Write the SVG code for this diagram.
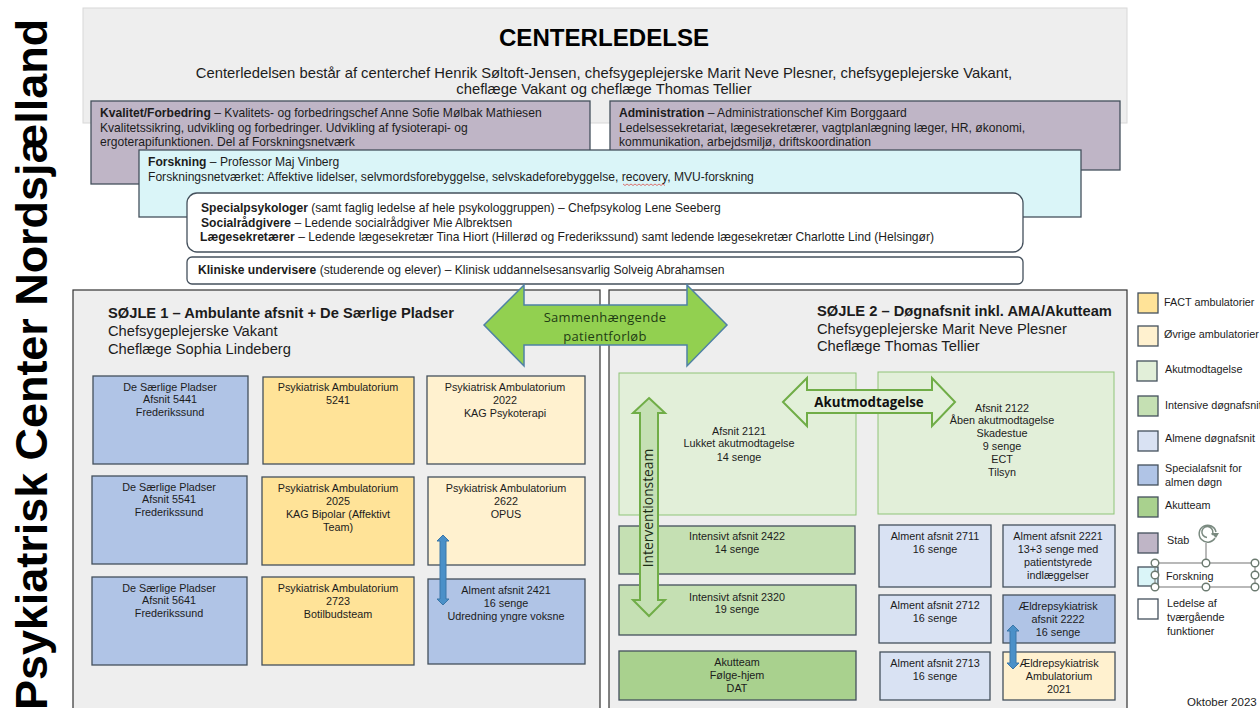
<svg xmlns="http://www.w3.org/2000/svg" width="1260" height="708" viewBox="0 0 1260 708">
<style>
text{font-family:"Liberation Sans",Arial,sans-serif;fill:#1c1c1c;font-size:10.8px}
.c{text-anchor:middle}
.b{font-weight:bold}
.s{font-size:12.1px}
.h{font-size:14.7px}
.box{stroke:#44505c;stroke-width:1.3}
.blue{fill:#b0c4e6}.fact{fill:#ffe398}.ovr{fill:#fff1cf}.aku{fill:#e2efd9;stroke:#8fc478}.int{fill:#c5e0b3}.alm{fill:#d9e2f3}.team{fill:#a9d18e}.stab{fill:#bfb5c6}.fors{fill:#daf5f8}.wh{fill:#fff}
.panel{fill:#eeeeee;stroke:#333;stroke-width:1.2}
.handle{fill:#fff;stroke:#6b7a70;stroke-width:1.4}
</style>
<text id="side-title" transform="translate(47,710) rotate(-90)" class="b" style="font-size:44.9px;fill:#000">Psykiatrisk Center Nordsjælland</text>

<g id="centerledelse">
<rect x="83" y="8" width="1044" height="115" fill="#eeeeee" stroke="#d8d8d8"/>
<text x="604" y="46" class="c b" style="font-size:24.1px;fill:#000">CENTERLEDELSE</text>
<text x="604" y="78" class="c" style="font-size:14.8px">Centerledelsen består af centerchef Henrik Søltoft-Jensen, chefsygeplejerske Marit Neve Plesner, chefsygeplejerske Vakant,</text>
<text x="604" y="94" class="c" style="font-size:14.8px">cheflæge Vakant og cheflæge Thomas Tellier</text>
</g>
<g id="kvalitet">
<rect x="91" y="101" width="499" height="83" class="box stab"/>
<text x="100" y="117" class="s"><tspan class="b">Kvalitet/Forbedring</tspan> – Kvalitets- og forbedringschef Anne Sofie Mølbak Mathiesen</text>
<text x="100" y="132" class="s">Kvalitetssikring, udvikling og forbedringer. Udvikling af fysioterapi- og</text>
<text x="100" y="146" class="s">ergoterapifunktionen. Del af Forskningsnetværk</text>
</g>
<g id="administration">
<rect x="610" y="101" width="510" height="69" class="box stab"/>
<text x="619" y="117" class="s"><tspan class="b">Administration</tspan> – Administrationschef Kim Borggaard</text>
<text x="619" y="132" class="s">Ledelsessekretariat, lægesekretærer, vagtplanlægning læger, HR, økonomi,</text>
<text x="619" y="146" class="s">kommunikation, arbejdsmiljø, driftskoordination</text>
</g>
<g id="forskning">
<rect x="139" y="150" width="942" height="67" class="box fors"/>
<text x="148" y="166" class="s"><tspan class="b">Forskning</tspan> – Professor Maj Vinberg</text>
<text x="148" y="181" class="s">Forskningsnetværket: Affektive lidelser, selvmordsforebyggelse, selvskadeforebyggelse, recovery, MVU-forskning</text>
<path d="M623 184l2 1.500 2-1.500 2 1.500 2-1.500 2 1.500 2-1.500 2 1.500 2-1.500 2 1.500 2-1.500 2 1.500 2-1.500 2 1.500 2-1.500 2 1.500 2-1.500 2 1.500 2-1.500 2 1.500 2-1.500 2 1.500" fill="none" stroke="#d9534f" stroke-width=".8"/>
</g>
<g id="specialpsykologer">
<rect x="187" y="193" width="836" height="59" rx="10" class="box wh"/>
<text x="201" y="212" class="s"><tspan class="b">Specialpsykologer</tspan> (samt faglig ledelse af hele psykologgruppen) – Chefpsykolog Lene Seeberg</text>
<text x="201" y="227" class="s"><tspan class="b">Socialrådgivere</tspan> – Ledende socialrådgiver Mie Albrektsen</text>
<text x="200" y="241" class="s"><tspan class="b">Lægesekretærer</tspan> – Ledende lægesekretær Tina Hiort (Hillerød og Frederikssund) samt ledende lægesekretær Charlotte Lind (Helsingør)</text>
</g>
<g id="kliniske">
<rect x="187" y="257" width="836" height="27" rx="5" class="box wh"/>
<text x="198" y="274" class="s"><tspan class="b">Kliniske undervisere</tspan> (studerende og elever) – Klinisk uddannelsesansvarlig Solveig Abrahamsen</text>
</g>

<g id="soejle1">
<rect x="73" y="290" width="527" height="425" class="panel"/>
<text x="108" y="318" class="b h">SØJLE 1 – Ambulante afsnit + De Særlige Pladser</text>
<text x="108" y="336" class="h">Chefsygeplejerske Vakant</text>
<text x="108" y="354" class="h">Cheflæge Sophia Lindeberg</text>
</g>
<g id="soejle2">
<rect x="609" y="290" width="518" height="425" class="panel"/>
<text x="817" y="316" class="b h">SØJLE 2 – Døgnafsnit inkl. AMA/Akutteam</text>
<text x="817" y="334" class="h">Chefsygeplejerske Marit Neve Plesner</text>
<text x="817" y="351" class="h">Cheflæge Thomas Tellier</text>
</g>

<g id="n5441"><rect x="93" y="376" width="155" height="88" class="box blue"/><text class="c" x="170" y="391">De Særlige Pladser</text><text class="c" x="170" y="403">Afsnit 5441</text><text class="c" x="170" y="416">Frederikssund</text></g>
<g id="n5241"><rect x="263" y="377" width="151" height="87" class="box fact"/><text class="c" x="338" y="391">Psykiatrisk Ambulatorium</text><text class="c" x="338" y="404">5241</text></g>
<g id="n2022"><rect x="427" y="376" width="158" height="88" class="box ovr"/><text class="c" x="505" y="391">Psykiatrisk Ambulatorium</text><text class="c" x="505" y="404">2022</text><text class="c" x="505" y="417">KAG Psykoterapi</text></g>
<g id="n5541"><rect x="92" y="476" width="155" height="88" class="box blue"/><text class="c" x="169" y="491">De Særlige Pladser</text><text class="c" x="169" y="503">Afsnit 5541</text><text class="c" x="169" y="516">Frederikssund</text></g>
<g id="n2025"><rect x="262" y="477" width="152" height="88" class="box fact"/><text class="c" x="338" y="492">Psykiatrisk Ambulatorium</text><text class="c" x="338" y="505">2025</text><text class="c" x="338" y="518">KAG Bipolar (Affektivt</text><text class="c" x="338" y="531">Team)</text></g>
<g id="n2622"><rect x="428" y="477" width="157" height="88" class="box ovr"/><text class="c" x="506" y="492">Psykiatrisk Ambulatorium</text><text class="c" x="506" y="505">2622</text><text class="c" x="506" y="518">OPUS</text></g>
<g id="n5641"><rect x="92" y="577" width="155" height="88" class="box blue"/><text class="c" x="169" y="592">De Særlige Pladser</text><text class="c" x="169" y="604">Afsnit 5641</text><text class="c" x="169" y="617">Frederikssund</text></g>
<g id="n2723"><rect x="262" y="577" width="152" height="88" class="box fact"/><text class="c" x="338" y="592">Psykiatrisk Ambulatorium</text><text class="c" x="338" y="605">2723</text><text class="c" x="338" y="618">Botilbudsteam</text></g>
<g id="n2421"><rect x="428" y="579" width="157" height="85" class="box blue"/><text class="c" x="506" y="594">Alment afsnit 2421</text><text class="c" x="506" y="607">16 senge</text><text class="c" x="506" y="620">Udredning yngre voksne</text></g>

<g id="n2121"><rect x="619" y="373" width="237" height="142" class="aku"/><text class="c" x="739" y="435">Afsnit 2121</text><text class="c" x="739" y="447">Lukket akutmodtagelse</text><text class="c" x="739" y="461">14 senge</text></g>
<g id="n2122"><rect x="878" y="372" width="236" height="142" class="aku"/><text class="c" x="1002" y="412">Afsnit 2122</text><text class="c" x="1002" y="424">Åben akutmodtagelse</text><text class="c" x="1002" y="437">Skadestue</text><text class="c" x="1002" y="450">9 senge</text><text class="c" x="1002" y="463">ECT</text><text class="c" x="1002" y="476">Tilsyn</text></g>
<g id="n2422"><rect x="619" y="526" width="236" height="48" class="box int"/><text class="c" x="737" y="540">Intensivt afsnit 2422</text><text class="c" x="737" y="553">14 senge</text></g>
<g id="n2320"><rect x="619" y="585" width="237" height="50" class="box int"/><text class="c" x="737" y="601">Intensivt afsnit 2320</text><text class="c" x="737" y="613">19 senge</text></g>
<g id="akutteam"><rect x="619" y="651" width="237" height="49" class="box team"/><text class="c" x="737" y="666">Akutteam</text><text class="c" x="737" y="679">Følge-hjem</text><text class="c" x="737" y="692">DAT</text></g>
<g id="n2711"><rect x="879" y="525" width="112" height="62" class="box alm"/><text class="c" x="935" y="540">Alment afsnit 2711</text><text class="c" x="935" y="553">16 senge</text></g>
<g id="n2221"><rect x="1003" y="525" width="112" height="62" class="box alm"/><text class="c" x="1058" y="540">Alment afsnit 2221</text><text class="c" x="1058" y="553">13+3 senge med</text><text class="c" x="1058" y="566">patientstyrede</text><text class="c" x="1058" y="579">indlæggelser</text></g>
<g id="n2712"><rect x="879" y="595" width="112" height="48" class="box alm"/><text class="c" x="935" y="609">Alment afsnit 2712</text><text class="c" x="935" y="622">16 senge</text></g>
<g id="n2222"><rect x="1003" y="595" width="112" height="48" class="box blue"/><text class="c" x="1058" y="610">Ældrepsykiatrisk</text><text class="c" x="1058" y="623">afsnit 2222</text><text class="c" x="1058" y="636">16 senge</text></g>
<g id="n2713"><rect x="880" y="652" width="110" height="48" class="box alm"/><text class="c" x="935" y="667">Alment afsnit 2713</text><text class="c" x="935" y="680">16 senge</text></g>
<g id="n2021"><rect x="1003" y="652" width="112" height="48" class="box ovr"/><text class="c" x="1059" y="667">Ældrepsykiatrisk</text><text class="c" x="1059" y="680">Ambulatorium</text><text class="c" x="1059" y="693">2021</text></g>

<g id="connectors">
<path d="M484 325L524 285V305H687V285L727 325L687 366V345H524V366Z" fill="#92d050" stroke="#4f81a5" stroke-width="1.500"/>
<text class="c" x="605" y="322" style="font-family:'Open Sans',sans-serif;font-size:13px;letter-spacing:.3px;fill:#1f3d14">Sammenhængende</text>
<text class="c" x="605" y="341" style="font-family:'Open Sans',sans-serif;font-size:13px;letter-spacing:.3px;fill:#1f3d14">patientforløb</text>
<path d="M783 402L807 378V390H932V378L955 402L932 426V413H807V426Z" fill="#e2f0d9" stroke="#70ad47" stroke-width="2"/>
<text class="c" x="869" y="407" style="font-family:'Open Sans',sans-serif;font-weight:bold;font-size:13.300px;fill:#111">Akutmodtagelse</text>
<path d="M649 398L665 413H658V600H665L649 616L633 600H640V413H633Z" fill="#c5e0b4" stroke="#70ad47" stroke-width="2"/>
<text class="c" transform="translate(653,508) rotate(-90)" style="font-family:'Open Sans',sans-serif;font-size:13.800px;fill:#1c2c14">Interventionsteam</text>
<path d="M443 535L449 541H446V599H449L443 605L437 599H440V541H437Z" fill="#4a90c8" stroke="#3a76a8"/>
<path d="M1013 625L1019 631H1016V663H1019L1013 669L1007 663H1010V631H1007Z" fill="#4a90c8" stroke="#3a76a8"/>
</g>

<g id="legend-fact"><rect x="1138" y="293" width="20" height="20" class="box fact"/><text x="1164" y="306">FACT ambulatorier</text></g>
<g id="legend-ovrige"><rect x="1138" y="326" width="20" height="20" class="box ovr"/><text x="1164" y="338">Øvrige ambulatorier</text></g>
<g id="legend-akut"><rect x="1137" y="361" width="20" height="20" class="box" fill="#e2efd9"/><text x="1165" y="373">Akutmodtagelse</text></g>
<g id="legend-int"><rect x="1138" y="396" width="20" height="20" class="box int"/><text x="1165" y="409">Intensive døgnafsnit</text></g>
<g id="legend-alm"><rect x="1138" y="431" width="20" height="20" class="box alm"/><text x="1165" y="442">Almene døgnafsnit</text></g>
<g id="legend-spec"><rect x="1138" y="465" width="20" height="20" class="box blue"/><text x="1165" y="472">Specialafsnit for</text><text x="1165" y="486">almen døgn</text></g>
<g id="legend-team"><rect x="1138" y="497" width="20" height="20" class="box team"/><text x="1165" y="509">Akutteam</text></g>
<g id="legend-stab"><rect x="1138" y="533" width="20" height="20" class="box stab"/><text x="1167" y="544">Stab</text></g>
<g id="legend-fors">
<rect x="1138" y="567" width="20" height="19" class="box fors"/>
<rect x="1155" y="563" width="100" height="24" fill="none" stroke="#8a8a8a" stroke-width="1.200"/>
<path d="M1206 563V543" stroke="#8a8a8a" stroke-width="1.200"/>
<path d="M1215 538a8.500 8.500 0 1 1 1-6M1212 535a5.500 5.500 0 1 0-5 2.500" fill="none" stroke="#7a8a80" stroke-width="1.500"/>
<path d="M1211 533l8 0-3 5z" fill="#7a8a80"/>
<circle cx="1155" cy="563" r="3.800" class="handle"/><circle cx="1206" cy="563" r="3.800" class="handle"/><circle cx="1255" cy="563" r="3.800" class="handle"/>
<circle cx="1155" cy="575" r="3.800" class="handle"/><circle cx="1255" cy="575" r="3.800" class="handle"/>
<circle cx="1155" cy="587" r="3.800" class="handle"/><circle cx="1206" cy="587" r="3.800" class="handle"/><circle cx="1255" cy="587" r="3.800" class="handle"/>
<text x="1166" y="580">Forskning</text>
</g>
<g id="legend-led"><rect x="1138" y="599" width="20" height="20" class="box wh"/><text x="1167" y="607">Ledelse af</text><text x="1167" y="621">tværgående</text><text x="1167" y="635">funktioner</text></g>
<text x="1187" y="706" style="font-size:11.500px">Oktober  2023</text>
</svg>
